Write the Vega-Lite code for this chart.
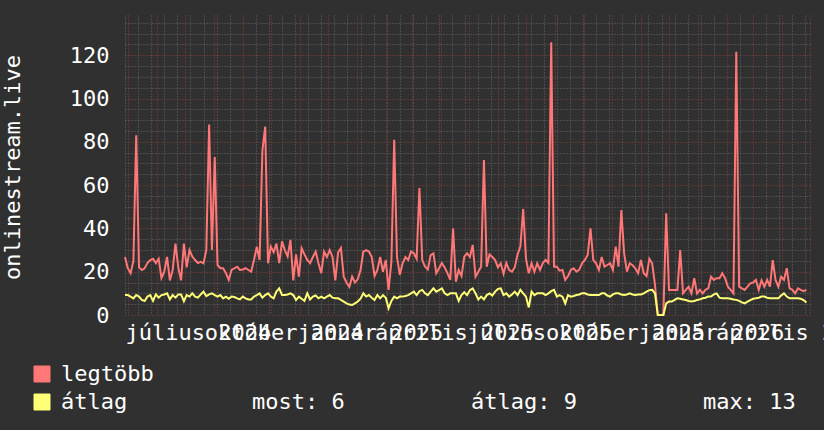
{
"$schema":"https://vega.github.io/schema/vega-lite/v6.json",
"width":687,"height":300,
"autosize":{"type":"none"},
"padding":{"left":125,"top":15,"right":12,"bottom":115},
"background":"#303030",
"config":{"view":{"fill":"#212121","stroke":null},"font":"DejaVu Sans Mono","axis":{"labelOverlap":false,"labelBound":false,"labelFlush":false}},
"data":{"values":[
{"d":"2024-04-28","m":26.8,"a":9.2},{"d":"2024-05-01","m":21.6,"a":9.2},{"d":"2024-05-04","m":19.3,"a":8.5},{"d":"2024-05-07","m":25,"a":7.7},{"d":"2024-05-10","m":83,"a":9.2},{"d":"2024-05-13","m":22,"a":8.5},{"d":"2024-05-16","m":20.8,"a":7},{"d":"2024-05-19","m":21.6,"a":6.5},{"d":"2024-05-22","m":24,"a":8.5},{"d":"2024-05-25","m":25.4,"a":9.2},{"d":"2024-05-28","m":26,"a":6.5},{"d":"2024-05-31","m":24,"a":9.5},
{"d":"2024-06-03","m":26,"a":8},{"d":"2024-06-06","m":17,"a":9.2},{"d":"2024-06-09","m":20,"a":9.5},{"d":"2024-06-12","m":26.8,"a":10},{"d":"2024-06-15","m":16,"a":7.2},{"d":"2024-06-18","m":20.8,"a":9.2},{"d":"2024-06-21","m":33,"a":8},{"d":"2024-06-24","m":22,"a":9.5},{"d":"2024-06-27","m":16,"a":9.5},{"d":"2024-06-30","m":33,"a":6.4},
{"d":"2024-07-03","m":22,"a":9.2},{"d":"2024-07-06","m":30,"a":8.5},{"d":"2024-07-09","m":27,"a":10},{"d":"2024-07-12","m":25.4,"a":8.5},{"d":"2024-07-15","m":24,"a":8},{"d":"2024-07-18","m":24.6,"a":9.5},{"d":"2024-07-21","m":23.9,"a":10.8},{"d":"2024-07-24","m":30,"a":8.7},{"d":"2024-07-27","m":88,"a":9.5},{"d":"2024-07-30","m":30,"a":10},
{"d":"2024-08-02","m":73,"a":9.2},{"d":"2024-08-05","m":23.1,"a":8.5},{"d":"2024-08-08","m":21.6,"a":9.2},{"d":"2024-08-11","m":21.6,"a":7.7},{"d":"2024-08-14","m":19.3,"a":8.5},{"d":"2024-08-17","m":16.2,"a":7.5},{"d":"2024-08-20","m":20.8,"a":8.5},{"d":"2024-08-23","m":21.6,"a":8.3},{"d":"2024-08-26","m":22.3,"a":7.7},{"d":"2024-08-29","m":20.8,"a":7.2},
{"d":"2024-09-01","m":21,"a":8.5},{"d":"2024-09-04","m":21.6,"a":7.7},{"d":"2024-09-07","m":20.8,"a":7.2},{"d":"2024-09-10","m":20,"a":7.2},{"d":"2024-09-13","m":25.4,"a":8.5},{"d":"2024-09-16","m":31.6,"a":9.2},{"d":"2024-09-19","m":25.4,"a":10},{"d":"2024-09-22","m":76,"a":8},{"d":"2024-09-25","m":87,"a":9.2},{"d":"2024-09-28","m":23.9,"a":10},
{"d":"2024-10-01","m":31.6,"a":8.5},{"d":"2024-10-04","m":29,"a":7.7},{"d":"2024-10-07","m":33,"a":10.8},{"d":"2024-10-10","m":24,"a":12.3},{"d":"2024-10-13","m":34,"a":9.2},{"d":"2024-10-16","m":30,"a":9.2},{"d":"2024-10-19","m":27,"a":9.5},{"d":"2024-10-22","m":34.7,"a":10},{"d":"2024-10-25","m":16,"a":9.2},{"d":"2024-10-28","m":28,"a":6.9},{"d":"2024-10-31","m":17.7,"a":8.5},
{"d":"2024-11-03","m":30.8,"a":7.5},{"d":"2024-11-06","m":28,"a":6.5},{"d":"2024-11-09","m":25.4,"a":10},{"d":"2024-11-12","m":23.9,"a":7.2},{"d":"2024-11-15","m":26.8,"a":8.5},{"d":"2024-11-18","m":29.3,"a":9},{"d":"2024-11-21","m":23.9,"a":7.7},{"d":"2024-11-24","m":19.3,"a":8.5},{"d":"2024-11-27","m":29.3,"a":7.7},{"d":"2024-11-30","m":26.8,"a":8.5},
{"d":"2024-12-03","m":30,"a":9.2},{"d":"2024-12-06","m":26.8,"a":8},{"d":"2024-12-09","m":16,"a":7.7},{"d":"2024-12-12","m":29,"a":7.7},{"d":"2024-12-15","m":31,"a":7},{"d":"2024-12-18","m":17.7,"a":6.2},{"d":"2024-12-21","m":15,"a":5.4},{"d":"2024-12-24","m":13,"a":4.8},{"d":"2024-12-27","m":17.7,"a":4.6},{"d":"2024-12-30","m":15,"a":5.4},
{"d":"2025-01-02","m":16.5,"a":6.2},{"d":"2025-01-05","m":20.8,"a":7.5},{"d":"2025-01-08","m":29.3,"a":10},{"d":"2025-01-11","m":30,"a":8.5},{"d":"2025-01-14","m":29.3,"a":9.2},{"d":"2025-01-17","m":26.8,"a":8},{"d":"2025-01-20","m":18,"a":6.9},{"d":"2025-01-23","m":20.8,"a":9.2},{"d":"2025-01-26","m":26.8,"a":7.7},{"d":"2025-01-29","m":20,"a":9.2},
{"d":"2025-02-01","m":25.4,"a":8},{"d":"2025-02-04","m":11.6,"a":3.1},{"d":"2025-02-07","m":24.6,"a":6.5},{"d":"2025-02-10","m":81,"a":8.5},{"d":"2025-02-13","m":26.8,"a":7.7},{"d":"2025-02-16","m":18.5,"a":8.5},{"d":"2025-02-19","m":23.9,"a":8.5},{"d":"2025-02-22","m":26.8,"a":8.8},{"d":"2025-02-25","m":25.4,"a":9.2},{"d":"2025-02-28","m":29.3,"a":10},
{"d":"2025-03-03","m":28.5,"a":10.8},{"d":"2025-03-06","m":26,"a":9.2},{"d":"2025-03-09","m":58.7,"a":11},{"d":"2025-03-12","m":25.4,"a":11.6},{"d":"2025-03-15","m":22.3,"a":10},{"d":"2025-03-18","m":21,"a":9.2},{"d":"2025-03-21","m":27.7,"a":10.8},{"d":"2025-03-24","m":28.5,"a":12.3},{"d":"2025-03-27","m":19.3,"a":10.8},{"d":"2025-03-30","m":21.6,"a":11.5},
{"d":"2025-04-02","m":24,"a":12.3},{"d":"2025-04-05","m":22,"a":10},{"d":"2025-04-08","m":19.3,"a":9.2},{"d":"2025-04-11","m":16.2,"a":10},{"d":"2025-04-14","m":40,"a":10},{"d":"2025-04-17","m":15.4,"a":10},{"d":"2025-04-20","m":20.8,"a":6.5},{"d":"2025-04-23","m":18,"a":9.2},{"d":"2025-04-26","m":27,"a":10.5},{"d":"2025-04-29","m":28.5,"a":9.2},
{"d":"2025-05-02","m":26.8,"a":11.5},{"d":"2025-05-05","m":32.4,"a":12.3},{"d":"2025-05-08","m":17.7,"a":10},{"d":"2025-05-11","m":20,"a":7.2},{"d":"2025-05-14","m":22.3,"a":8.5},{"d":"2025-05-17","m":71.6,"a":7.2},{"d":"2025-05-20","m":22.3,"a":9.2},{"d":"2025-05-23","m":28,"a":10},{"d":"2025-05-26","m":26.8,"a":9},{"d":"2025-05-29","m":25.4,"a":10.8},
{"d":"2025-06-01","m":22,"a":12},{"d":"2025-06-04","m":23.9,"a":12.3},{"d":"2025-06-07","m":19,"a":9.2},{"d":"2025-06-10","m":24,"a":10},{"d":"2025-06-13","m":20.8,"a":8.5},{"d":"2025-06-16","m":20,"a":9.5},{"d":"2025-06-19","m":22,"a":10.8},{"d":"2025-06-22","m":28,"a":9.2},{"d":"2025-06-25","m":31.6,"a":11.6},{"d":"2025-06-28","m":49,"a":10},
{"d":"2025-07-01","m":26,"a":8.5},{"d":"2025-07-04","m":19.3,"a":3.5},{"d":"2025-07-07","m":23.9,"a":10.8},{"d":"2025-07-10","m":20,"a":9.2},{"d":"2025-07-13","m":23.9,"a":10},{"d":"2025-07-16","m":20.8,"a":10},{"d":"2025-07-19","m":24,"a":10},{"d":"2025-07-22","m":25.4,"a":9.2},{"d":"2025-07-25","m":24,"a":10},{"d":"2025-07-28","m":126,"a":11},{"d":"2025-07-31","m":22.3,"a":11.6},
{"d":"2025-08-03","m":22.3,"a":8.5},{"d":"2025-08-06","m":20.5,"a":9.2},{"d":"2025-08-09","m":20.8,"a":8.5},{"d":"2025-08-12","m":16.2,"a":5.4},{"d":"2025-08-15","m":18,"a":9.2},{"d":"2025-08-18","m":20.8,"a":8.5},{"d":"2025-08-21","m":21.6,"a":8.8},{"d":"2025-08-24","m":20,"a":9.2},{"d":"2025-08-27","m":21,"a":9.5},{"d":"2025-08-30","m":23.9,"a":10},
{"d":"2025-09-02","m":25.4,"a":10},{"d":"2025-09-05","m":27.7,"a":9.5},{"d":"2025-09-08","m":40,"a":9.2},{"d":"2025-09-11","m":25.4,"a":9.2},{"d":"2025-09-14","m":23.9,"a":9.2},{"d":"2025-09-17","m":20.8,"a":9.2},{"d":"2025-09-20","m":26.8,"a":10},{"d":"2025-09-23","m":22.3,"a":10},{"d":"2025-09-26","m":23.1,"a":9},{"d":"2025-09-29","m":23.9,"a":8.5},
{"d":"2025-10-02","m":20.8,"a":9.5},{"d":"2025-10-05","m":31.6,"a":10},{"d":"2025-10-08","m":22.3,"a":10},{"d":"2025-10-11","m":48.5,"a":9.5},{"d":"2025-10-14","m":28.5,"a":9.2},{"d":"2025-10-17","m":20,"a":9.5},{"d":"2025-10-20","m":23.9,"a":10},{"d":"2025-10-23","m":23,"a":9.5},{"d":"2025-10-26","m":21.6,"a":9.2},{"d":"2025-10-29","m":19.3,"a":9.5},
{"d":"2025-11-01","m":25.4,"a":9.5},{"d":"2025-11-04","m":19.3,"a":10},{"d":"2025-11-07","m":18,"a":10.8},{"d":"2025-11-10","m":26,"a":11.5},{"d":"2025-11-13","m":23.9,"a":11.6},{"d":"2025-11-16","m":14,"a":10},{"d":"2025-11-19","m":0,"a":0},{"d":"2025-11-22","m":0,"a":0},{"d":"2025-11-25","m":0,"a":0},{"d":"2025-11-28","m":47,"a":5.4},
{"d":"2025-12-01","m":11.6,"a":6.2},{"d":"2025-12-04","m":11.6,"a":6.2},{"d":"2025-12-07","m":11.6,"a":7},{"d":"2025-12-10","m":11.6,"a":7.7},{"d":"2025-12-13","m":30,"a":7.5},{"d":"2025-12-16","m":10,"a":7.2},{"d":"2025-12-19","m":11.6,"a":6.9},{"d":"2025-12-22","m":13.1,"a":6.5},{"d":"2025-12-25","m":10,"a":6.2},{"d":"2025-12-28","m":17,"a":6.5},{"d":"2025-12-31","m":10,"a":6.9},
{"d":"2026-01-03","m":11.6,"a":7.2},{"d":"2026-01-06","m":10,"a":7.7},{"d":"2026-01-09","m":11.6,"a":8},{"d":"2026-01-12","m":12.3,"a":8.5},{"d":"2026-01-15","m":17.7,"a":8.5},{"d":"2026-01-18","m":16.2,"a":9.5},{"d":"2026-01-21","m":17,"a":10},{"d":"2026-01-24","m":17,"a":8},{"d":"2026-01-27","m":19.3,"a":7.7},{"d":"2026-01-30","m":17,"a":7.7},
{"d":"2026-02-02","m":13.1,"a":7.7},{"d":"2026-02-05","m":11.6,"a":7.5},{"d":"2026-02-08","m":10,"a":7.2},{"d":"2026-02-11","m":121.6,"a":7},{"d":"2026-02-14","m":13.1,"a":6.5},{"d":"2026-02-17","m":12.3,"a":5.8},{"d":"2026-02-20","m":11.6,"a":5.4},{"d":"2026-02-23","m":13.1,"a":6.2},{"d":"2026-02-26","m":14.6,"a":6.9},
{"d":"2026-03-01","m":15,"a":7.5},{"d":"2026-03-04","m":16.2,"a":7.7},{"d":"2026-03-07","m":11.6,"a":8},{"d":"2026-03-10","m":16,"a":8.5},{"d":"2026-03-13","m":13.1,"a":8.5},{"d":"2026-03-16","m":16.2,"a":8},{"d":"2026-03-19","m":13.1,"a":7.7},{"d":"2026-03-22","m":25.4,"a":7.7},{"d":"2026-03-25","m":16.2,"a":7.7},{"d":"2026-03-28","m":13.1,"a":7.7},{"d":"2026-03-31","m":17.7,"a":9},
{"d":"2026-04-03","m":16.2,"a":10},{"d":"2026-04-06","m":21.6,"a":8.5},{"d":"2026-04-09","m":12.3,"a":7.7},{"d":"2026-04-12","m":11.6,"a":7.7},{"d":"2026-04-15","m":10,"a":7.7},{"d":"2026-04-18","m":12.3,"a":7.7},{"d":"2026-04-21","m":11.6,"a":7.5},{"d":"2026-04-24","m":11,"a":6.9},{"d":"2026-04-27","m":11.6,"a":5.8}
]},
"layer":[
{"encoding":{
  "x":{"field":"d","type":"temporal",
   "scale":{"type":"utc","domain":[{"year":2024,"month":4,"date":28,"utc":true},{"year":2026,"month":5,"date":3,"utc":true}]},
   "axis":{"title":null,"domain":false,"ticks":false,"tickSize":0,"grid":true,
    "values":[
{"year":2024,"month":4,"date":28,"utc":true},{"year":2024,"month":5,"date":1,"utc":true},{"year":2024,"month":5,"date":12,"utc":true},{"year":2024,"month":5,"date":26,"utc":true},{"year":2024,"month":6,"date":1,"utc":true},{"year":2024,"month":6,"date":9,"utc":true},{"year":2024,"month":6,"date":23,"utc":true},{"year":2024,"month":7,"date":1,"utc":true},{"year":2024,"month":7,"date":7,"utc":true},{"year":2024,"month":7,"date":21,"utc":true},{"year":2024,"month":8,"date":1,"utc":true},{"year":2024,"month":8,"date":4,"utc":true},{"year":2024,"month":8,"date":18,"utc":true},{"year":2024,"month":9,"date":1,"utc":true},{"year":2024,"month":9,"date":15,"utc":true},{"year":2024,"month":9,"date":29,"utc":true},{"year":2024,"month":10,"date":1,"utc":true},{"year":2024,"month":10,"date":13,"utc":true},{"year":2024,"month":10,"date":27,"utc":true},{"year":2024,"month":11,"date":1,"utc":true},{"year":2024,"month":11,"date":10,"utc":true},{"year":2024,"month":11,"date":24,"utc":true},{"year":2024,"month":12,"date":1,"utc":true},{"year":2024,"month":12,"date":8,"utc":true},{"year":2024,"month":12,"date":22,"utc":true},
{"year":2025,"month":1,"date":1,"utc":true},{"year":2025,"month":1,"date":5,"utc":true},{"year":2025,"month":1,"date":19,"utc":true},{"year":2025,"month":2,"date":1,"utc":true},{"year":2025,"month":2,"date":2,"utc":true},{"year":2025,"month":2,"date":16,"utc":true},{"year":2025,"month":3,"date":1,"utc":true},{"year":2025,"month":3,"date":2,"utc":true},{"year":2025,"month":3,"date":16,"utc":true},{"year":2025,"month":3,"date":30,"utc":true},{"year":2025,"month":4,"date":1,"utc":true},{"year":2025,"month":4,"date":13,"utc":true},{"year":2025,"month":4,"date":27,"utc":true},{"year":2025,"month":5,"date":1,"utc":true},{"year":2025,"month":5,"date":11,"utc":true},{"year":2025,"month":5,"date":25,"utc":true},{"year":2025,"month":6,"date":1,"utc":true},{"year":2025,"month":6,"date":8,"utc":true},{"year":2025,"month":6,"date":22,"utc":true},{"year":2025,"month":7,"date":1,"utc":true},{"year":2025,"month":7,"date":6,"utc":true},{"year":2025,"month":7,"date":20,"utc":true},{"year":2025,"month":8,"date":1,"utc":true},{"year":2025,"month":8,"date":3,"utc":true},{"year":2025,"month":8,"date":17,"utc":true},{"year":2025,"month":8,"date":31,"utc":true},{"year":2025,"month":9,"date":1,"utc":true},{"year":2025,"month":9,"date":14,"utc":true},{"year":2025,"month":9,"date":28,"utc":true},{"year":2025,"month":10,"date":1,"utc":true},{"year":2025,"month":10,"date":12,"utc":true},{"year":2025,"month":10,"date":26,"utc":true},{"year":2025,"month":11,"date":1,"utc":true},{"year":2025,"month":11,"date":9,"utc":true},{"year":2025,"month":11,"date":23,"utc":true},{"year":2025,"month":12,"date":1,"utc":true},{"year":2025,"month":12,"date":7,"utc":true},{"year":2025,"month":12,"date":21,"utc":true},
{"year":2026,"month":1,"date":1,"utc":true},{"year":2026,"month":1,"date":4,"utc":true},{"year":2026,"month":1,"date":18,"utc":true},{"year":2026,"month":2,"date":1,"utc":true},{"year":2026,"month":2,"date":15,"utc":true},{"year":2026,"month":3,"date":1,"utc":true},{"year":2026,"month":3,"date":15,"utc":true},{"year":2026,"month":3,"date":29,"utc":true},{"year":2026,"month":4,"date":1,"utc":true},{"year":2026,"month":4,"date":12,"utc":true},{"year":2026,"month":4,"date":26,"utc":true},{"year":2026,"month":5,"date":1,"utc":true}
    ],
    "gridColor":{"condition":{"test":"utcdate(datum.value) == 1","value":"#8c3c3c"},"value":"#666666"},
    "gridDash":[1,2],"gridWidth":1,
    "labelExpr":"utcdate(datum.value) == 1 && utcmonth(datum.value) % 3 == 0 ? ['január','február','március','április','május','június','július','augusztus','szeptember','október','november','december'][utcmonth(datum.value)] + ' ' + utcyear(datum.value) : ''",
    "labelFont":"DejaVu Sans Mono","labelFontSize":22,"labelColor":"#ffffff","labelPadding":24,"labelOffset":13,
    "labelBaseline":"alphabetic","labelAlign":"center","labelOverlap":false,"labelBound":false,"labelFlush":false,"labelLimit":1000}}},
 "layer":[
  {"mark":{"type":"line","strokeWidth":2},
   "encoding":{
    "y":{"field":"m","type":"quantitative","scale":{"domain":[0,138.6],"nice":false,"zero":true},
     "axis":{"title":"onlinestream.live","domain":false,"ticks":false,"tickSize":0,"grid":true,
      "values":[0,5,10,15,20,25,30,35,40,45,50,55,60,65,70,75,80,85,90,95,100,105,110,115,120,125,130,135],
      "gridColor":{"condition":{"test":"datum.value % 20 == 0","value":"#8c3c3c"},"value":"#666666"},
      "gridDash":[1,2],"gridWidth":1,
      "labelExpr":"datum.value % 20 == 0 ? datum.label : ''",
      "labelFont":"DejaVu Sans Mono","labelFontSize":22,"labelColor":"#ffffff","labelPadding":16,"labelBaseline":"middle",
      "titleFont":"DejaVu Sans Mono","titleFontSize":22,"titleFontWeight":"normal","titleColor":"#ffffff",
      "titleAngle":270,"titleX":-106,"titleY":152,"titleAlign":"center","titleBaseline":"alphabetic"}},
    "color":{"datum":"legtöbb","type":"nominal",
     "scale":{"domain":["legtöbb","átlag"],"range":["#ff7777","#ffff77"]},
     "legend":{"orient":"none","legendX":-94,"legendY":348,"direction":"vertical","title":null,"padding":0,
      "labelFont":"DejaVu Sans Mono","labelFontSize":22,"labelColor":"#ffffff","labelOffset":8,"rowPadding":6,
      "symbolType":"square","symbolSize":256,"symbolStrokeWidth":1,"labelLimit":1000,
      "encode":{"symbols":{"update":{"fill":{"scale":"color","field":"value"},"stroke":{"value":"#000000"},"strokeWidth":{"value":1},"opacity":{"value":1}}}}}}
   }},
  {"mark":{"type":"line","strokeWidth":2},
   "encoding":{
    "y":{"field":"a","type":"quantitative","scale":{"domain":[0,138.6],"nice":false,"zero":true},
     "axis":{"title":"onlinestream.live","domain":false,"ticks":false,"tickSize":0,"grid":true,
      "values":[0,5,10,15,20,25,30,35,40,45,50,55,60,65,70,75,80,85,90,95,100,105,110,115,120,125,130,135],
      "gridColor":{"condition":{"test":"datum.value % 20 == 0","value":"#8c3c3c"},"value":"#666666"},
      "gridDash":[1,2],"gridWidth":1,
      "labelExpr":"datum.value % 20 == 0 ? datum.label : ''",
      "labelFont":"DejaVu Sans Mono","labelFontSize":22,"labelColor":"#ffffff","labelPadding":16,"labelBaseline":"middle",
      "titleFont":"DejaVu Sans Mono","titleFontSize":22,"titleFontWeight":"normal","titleColor":"#ffffff",
      "titleAngle":270,"titleX":-106,"titleY":152,"titleAlign":"center","titleBaseline":"alphabetic"}},
    "color":{"datum":"átlag","type":"nominal"}
   }}
 ]},
{"data":{"values":[{"s":"most: 6"},{"s":"átlag: 9"},{"s":"max: 13"}]},
 "mark":{"type":"point","opacity":0},
 "encoding":{"shape":{"field":"s","type":"nominal","scale":{"domain":["most: 6","átlag: 9","max: 13"]},
  "legend":{"orient":"none","legendX":105,"legendY":376,"direction":"horizontal","columns":3,"columnPadding":104,"title":null,"padding":0,
   "labelFont":"DejaVu Sans Mono","labelFontSize":22,"labelColor":"#ffffff","labelOffset":0,"symbolSize":0,"symbolOpacity":0,"symbolStrokeWidth":0,"labelLimit":1000}}}}
]
}
